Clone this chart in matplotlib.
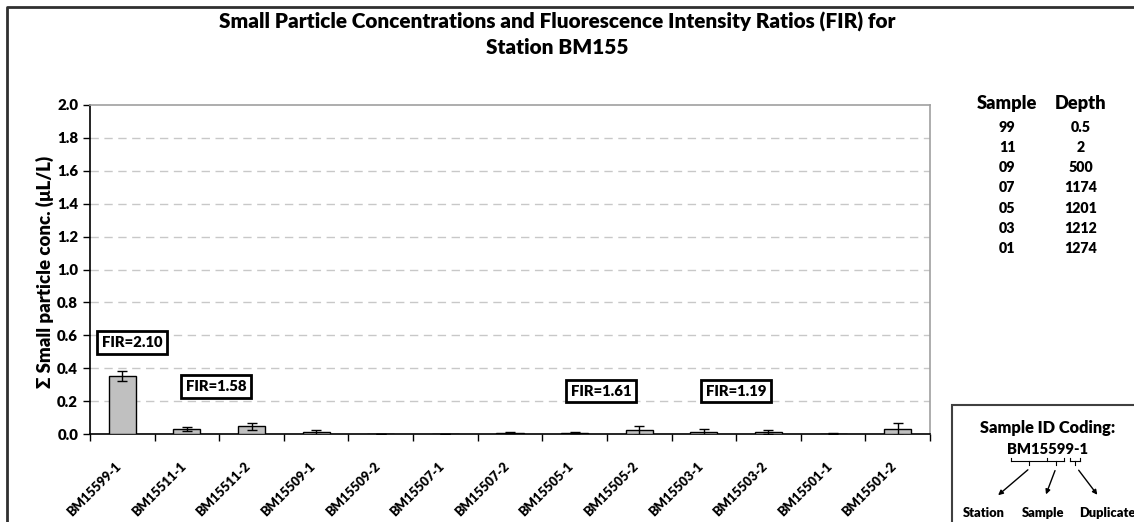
import numpy as np
import matplotlib
matplotlib.use("Agg")
import matplotlib.pyplot as plt
from matplotlib.lines import Line2D
from matplotlib.patches import Rectangle, FancyArrowPatch
import matplotlib.transforms as mtransforms

plt.rcParams['font.family'] = ['Lato', 'DejaVu Sans']
plt.rcParams['font.weight'] = 'heavy'

# data
samples = ['BM15599-1', 'BM15511-1', 'BM15511-2', 'BM15509-1', 'BM15509-2',
           'BM15507-1', 'BM15507-2', 'BM15505-1', 'BM15505-2', 'BM15503-1',
           'BM15503-2', 'BM15501-1', 'BM15501-2']
conc = [0.352, 0.030, 0.046, 0.010, 0.002, 0.001, 0.008,
        0.008, 0.022, 0.010, 0.010, 0.003, 0.030]
err = [0.032, 0.014, 0.022, 0.014, 0.0, 0.0, 0.004,
       0.004, 0.028, 0.018, 0.012, 0.001, 0.035]

fir_text = ['FIR=2.10', 'FIR=1.58', 'FIR=1.61', 'FIR=1.19']
fir_x = [0.15, 1.45, 7.41, 9.5]
fir_y = [0.557, 0.29, 0.26, 0.26]

sample_codes = ['99', '11', '09', '07', '05', '03', '01']
depths = ['0.5', '2', '500', '1174', '1201', '1212', '1274']

W, H = 1134, 522


def px(x, y):
    return (x / W, 1 - y / H)


fig = plt.figure(figsize=(W / 100, H / 100), dpi=100)
renderer = fig.canvas.get_renderer()


def fit(t, target, use_height=False):
    # scale a text so its drawn size matches the width measured on the reference
    bb = t.get_window_extent(renderer)
    size = bb.height if use_height else bb.width
    t.set_fontsize(t.get_fontsize() * target / size)
    return t.get_fontsize()


ax = fig.add_axes([90 / W, 1 - 434 / H, 840 / W, 329 / H])

x = np.arange(len(samples))
ax.bar(x, conc, width=0.42, color='#c0c0c0', edgecolor='black', linewidth=1, zorder=3)
ax.errorbar(x, conc, yerr=err, fmt='none', ecolor='black', elinewidth=1,
            capsize=3.5, capthick=1, zorder=4)

ax.set_xlim(-0.5, len(samples) - 0.5)
ax.set_ylim(0, 2.0)

# font sizes from reference widths
probe = fig.text(0, 0, '2.0', fontsize=10)
ytick_fs = fit(probe, 21)
probe.set_text('BM15599-1')
probe.set_fontsize(10)
xtick_fs = fit(probe, 71)
probe.set_text('FIR=2.10')
probe.set_fontsize(10)
fir_fs = fit(probe, 61)
probe.remove()

ax.set_yticks(np.arange(0, 2.01, 0.2))
ax.set_yticklabels(['%.1f' % v for v in np.arange(0, 2.01, 0.2)], fontsize=ytick_fs)
for yv in np.arange(0.2, 1.81, 0.2):
    ax.axhline(yv, color='#c8c8c8', linewidth=1, linestyle=(0, (6, 4)), zorder=1)

ax.set_xticks(x)
ax.set_xticklabels(samples, rotation=45, ha='right', va='center',
                   rotation_mode='anchor', fontsize=xtick_fs)
ax.set_xticks(np.arange(-0.5, len(samples), 1.0), minor=True)
ax.tick_params(axis='x', which='major', length=0, pad=22)
ax.tick_params(axis='x', which='minor', length=5, direction='out', width=1)
ax.tick_params(axis='y', length=5, direction='out', width=1)
offset = mtransforms.ScaledTranslation(-3 / 100, 0, fig.dpi_scale_trans)
for lab in ax.get_xticklabels():
    lab.set_transform(lab.get_transform() + offset)

ax.spines['left'].set_color('black')
ax.spines['bottom'].set_color('black')
ax.spines['top'].set_color('#a0a0a0')
ax.spines['right'].set_color('#a0a0a0')
for s in ax.spines.values():
    s.set_linewidth(1.2)

ylab = fig.text(*px(45, 272), '\u03a3 Small particle conc. (\u03bcL/L)', rotation=90,
                ha='center', va='center', fontsize=12)
fit(ylab, 231, use_height=True)

for t, fx, fy in zip(fir_text, fir_x, fir_y):
    ax.text(fx, fy, t, ha='center', va='center', fontsize=fir_fs, zorder=5,
            bbox=dict(boxstyle='square,pad=0.32', facecolor='white', edgecolor='black', linewidth=2))

# title
t1 = fig.text(*px(557, 22), 'Small Particle Concentrations and Fluorescence Intensity Ratios (FIR) for',
              ha='center', va='center', fontsize=14)
title_fs = fit(t1, 676)
fig.text(*px(557, 48), 'Station BM155', ha='center', va='center', fontsize=title_fs)

# sample/depth table
h1 = fig.text(*px(1007, 103), 'Sample', ha='center', va='center', fontsize=12)
head_fs = fit(h1, 60)
fig.text(*px(1081, 103), 'Depth', ha='center', va='center', fontsize=head_fs)
probe = fig.text(0, 0, '1174', fontsize=10)
row_fs = fit(probe, 33)
probe.remove()
for i, (c, d) in enumerate(zip(sample_codes, depths)):
    yy = 127 + i * 20.3
    fig.text(*px(1007, yy), c, ha='center', va='center', fontsize=row_fs)
    fig.text(*px(1081, yy), d, ha='center', va='center', fontsize=row_fs)

# outer frame
fig.add_artist(Line2D([7 / W, 7 / W, 1], [0, 1 - 7 / H, 1 - 7 / H], transform=fig.transFigure,
                      color='#303030', linewidth=2))

# sample ID coding box
fig.add_artist(Rectangle(px(952, 530), 200 / W, 125 / H, transform=fig.transFigure,
                         facecolor='white', edgecolor='#404040', linewidth=1.5))
c1 = fig.text(*px(1048, 428), 'Sample ID Coding:', ha='center', va='center', fontsize=12)
fit(c1, 135)
c2 = fig.text(*px(1048, 449), 'BM15599-1', ha='center', va='center', fontsize=10)
fit(c2, 81)


def seg(x0, y0, x1, y1):
    a = px(x0, y0)
    b = px(x1, y1)
    fig.add_artist(Line2D([a[0], b[0]], [a[1], b[1]], transform=fig.transFigure,
                          color='black', linewidth=0.8))


seg(1011, 461, 1064, 461)
seg(1011, 458, 1011, 461)
seg(1064, 458, 1064, 461)
seg(1047, 458, 1047, 461)
seg(1029, 461, 1029, 465)
seg(1056, 461, 1056, 465)
seg(1070, 461, 1080, 461)
seg(1070, 458, 1070, 461)
seg(1080, 458, 1080, 461)
seg(1075, 461, 1075, 465)

for (x0, y0, x1, y1) in [(1030, 468, 996, 497), (1056, 468, 1045, 497), (1077, 468, 1099, 497)]:
    fig.add_artist(FancyArrowPatch(px(x0, y0), px(x1, y1), transform=fig.transFigure,
                                   arrowstyle='-|>', mutation_scale=7, color='black', linewidth=1))

s1 = fig.text(*px(984, 513), 'Station', ha='center', va='center', fontsize=10)
lab_fs = fit(s1, 42)
fig.text(*px(1043, 513), 'Sample', ha='center', va='center', fontsize=lab_fs)
fig.text(*px(1107, 513), 'Duplicate', ha='center', va='center', fontsize=lab_fs)

fig.savefig('out.png', dpi=100)
